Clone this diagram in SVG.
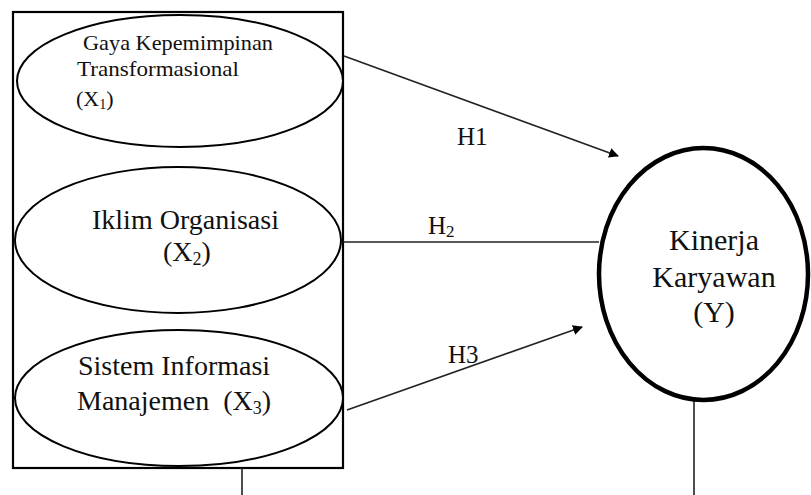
<svg xmlns="http://www.w3.org/2000/svg" width="811" height="495" viewBox="0 0 811 495">
<defs>
<style>
.t{font-family:"Liberation Serif","Times New Roman",serif;fill:#111;}
.e{fill:#fff;stroke:#000;stroke-width:2;}
.c{stroke:#222;stroke-width:1.6;fill:none;}
</style>
<marker id="ah" viewBox="0 0 10 10" refX="9" refY="5" markerWidth="10" markerHeight="10" markerUnits="userSpaceOnUse" orient="auto">
<path d="M0,0 L10,5 L0,10 z" fill="#000"/>
</marker>
</defs>
<rect width="811" height="495" fill="#fff"/>
<g id="box">
<rect x="13" y="12" width="330" height="456" fill="none" stroke="#000" stroke-width="2.2"/>
</g>
<g id="connectors">
<line class="c" x1="344" y1="56" x2="618" y2="156" marker-end="url(#ah)"/>
<line class="c" x1="343" y1="242" x2="599" y2="242"/>
<line class="c" x1="347" y1="410" x2="582" y2="327" marker-end="url(#ah)"/>
<line class="c" x1="242" y1="468" x2="242" y2="495" stroke="#777"/>
<line class="c" x1="694" y1="401" x2="694" y2="495" stroke="#444"/>
</g>
<g id="x1">
<ellipse class="e" cx="180" cy="81" rx="163" ry="66"/>
<text class="t" font-size="22" x="83" y="50" textLength="190" lengthAdjust="spacingAndGlyphs">Gaya Kepemimpinan</text>
<text class="t" font-size="22" x="77" y="76" textLength="162" lengthAdjust="spacingAndGlyphs">Transformasional</text>
<text class="t" font-size="22" x="76" y="106">(X<tspan font-size="14" dy="3">1</tspan><tspan dy="-3">)</tspan></text>
</g>
<g id="x2">
<ellipse class="e" cx="178" cy="240" rx="163" ry="73"/>
<text class="t" font-size="28" x="92" y="229">Iklim Organisasi</text>
<text class="t" font-size="28" x="163" y="261">(X<tspan font-size="18" dy="4">2</tspan><tspan dy="-4">)</tspan></text>
</g>
<g id="x3">
<ellipse class="e" cx="179" cy="398" rx="164" ry="68"/>
<text class="t" font-size="28" x="78" y="375">Sistem Informasi</text>
<text class="t" font-size="28" x="77" y="410">Manajemen&#160; (X<tspan font-size="18" dy="4">3</tspan><tspan dy="-4">)</tspan></text>
</g>
<g id="y">
<ellipse cx="703.5" cy="274" rx="104.5" ry="126" fill="#fff" stroke="#000" stroke-width="4.5"/>
<text class="t" font-size="30" x="714" y="250" text-anchor="middle">Kinerja</text>
<text class="t" font-size="30" x="714" y="287" text-anchor="middle">Karyawan</text>
<text class="t" font-size="30" x="714" y="322" text-anchor="middle">(Y)</text>
</g>
<g id="labels">
<text class="t" font-size="25" x="457" y="145">H1</text>
<text class="t" font-size="25" x="428" y="234">H<tspan font-size="17" dy="3">2</tspan></text>
<text class="t" font-size="25" x="448" y="363">H3</text>
</g>
</svg>
